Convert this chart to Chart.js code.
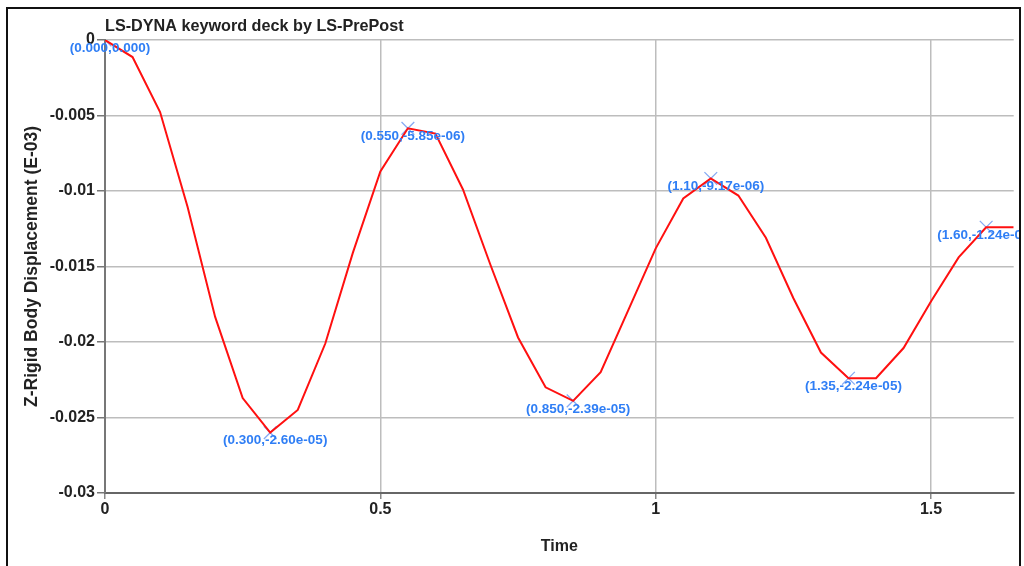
<!DOCTYPE html>
<html lang="en">

<head>
    <meta charset="UTF-8">
    <title>LS-DYNA keyword deck by LS-PrePost</title>
    <style>
        body { margin: 0; background: #fff; }
        #box { width: 1024px; height: 566px; }
    </style>
</head>

<body>

    <div id="box">
        <canvas id="myChart"></canvas>
    </div>

    <script src="https://cdn.jsdelivr.net/npm/chart.js"></script>
    <script>
        // time (s) and Z displacement, one point every 0.05
        const v_time = [0, 0.05, 0.1, 0.15, 0.2, 0.25, 0.3, 0.35, 0.4, 0.45, 0.5, 0.55, 0.6, 0.65, 0.7, 0.75, 0.8,
            0.85, 0.9, 0.95, 1.0, 1.05, 1.1, 1.15, 1.2, 1.25, 1.3, 1.35, 1.4, 1.45, 1.5, 1.55, 1.6, 1.65];
        const v_disp = [0, -0.00113, -0.00477, -0.01106, -0.01834, -0.02371, -0.0260, -0.0245, -0.0201, -0.0141,
            -0.0087, -0.00585, -0.0062, -0.0099, -0.0149, -0.0197, -0.0230, -0.0239, -0.0220, -0.0179,
            -0.0138, -0.0105, -0.00917, -0.0103, -0.0131, -0.0171, -0.0207, -0.0224, -0.0224, -0.0204,
            -0.0173, -0.0144, -0.0124, -0.0124];

        // marked extrema and their labels
        const v_markTime = [0, 0.3, 0.55, 0.85, 1.1, 1.35, 1.6];
        const v_markDisp = [0, -0.0260, -0.00585, -0.0239, -0.00917, -0.0224, -0.0124];
        const v_markLabels = ["(0.000,0.000)", "(0.300,-2.60e-05)", "(0.550,-5.85e-06)", "(0.850,-2.39e-05)",
            "(1.10,-9.17e-06)", "(1.35,-2.24e-05)", "(1.60,-1.24e-05)"];

        const v_xTicks = [0, 0.5, 1, 1.5];
        const v_yTicks = [0, -0.005, -0.01, -0.015, -0.02, -0.025, -0.03];

        let v_line = [];
        for (let i = 0; i < v_time.length; i++) {
            v_line.push({ x: v_time[i], y: v_disp[i] });
        }
        let v_marks = [];
        for (let i = 0; i < v_markTime.length; i++) {
            v_marks.push({ x: v_markTime[i], y: v_markDisp[i] });
        }

        const f_font = "'Liberation Sans', Arial, sans-serif";

        // frame, title and point labels
        const p_extra = {
            id: 'extra',
            beforeDraw(chart) {
                const c = chart.ctx;
                c.save();
                c.fillStyle = '#fff';
                c.fillRect(0, 0, chart.width, chart.height);
                c.restore();
            },
            afterDraw(chart) {
                const c = chart.ctx;
                const xs = chart.scales.x;
                const ys = chart.scales.y;
                c.save();
                c.font = "bold 13.5px " + f_font;
                c.fillStyle = '#2f7ef5';
                c.textAlign = 'center';
                c.textBaseline = 'middle';
                for (let i = 0; i < v_marks.length; i++) {
                    let w = c.measureText(v_markLabels[i]).width;
                    let px = xs.getPixelForValue(v_marks[i].x) + 5;
                    // keep the label from running off too far to the right
                    if (px + w / 2 > 1034) px = 1034 - w / 2;
                    c.fillText(v_markLabels[i], px, ys.getPixelForValue(v_marks[i].y) + 8);
                }
                c.font = "bold 16.2px " + f_font;
                c.fillStyle = '#222';
                c.textAlign = 'left';
                c.fillText("LS-DYNA keyword deck by LS-PrePost", chart.chartArea.left, 27);

                c.fillStyle = '#fff';
                c.fillRect(1021, 0, 3, chart.height);
                c.strokeStyle = '#111';
                c.lineWidth = 2;
                c.beginPath();
                c.moveTo(7, chart.height);
                c.lineTo(7, 8);
                c.lineTo(1020, 8);
                c.lineTo(1020, chart.height);
                c.stroke();
                c.restore();
            }
        };

        const ctx = document.querySelector("#myChart");

        new Chart(ctx, {
            type: 'line',
            data: {
                datasets: [
                    {
                        data: v_line,
                        borderColor: '#ff1010',
                        borderWidth: 2,
                        pointRadius: 0,
                        tension: 0
                    },
                    {
                        data: v_marks,
                        showLine: false,
                        pointStyle: 'crossRot',
                        pointRadius: 9,
                        pointBorderWidth: 1.3,
                        pointBorderColor: '#86aaf3'
                    }
                ]
            },
            plugins: [p_extra],
            options: {
                responsive: true,
                maintainAspectRatio: false,
                animation: false,
                layout: { padding: { left: 20, right: -6, top: 40, bottom: 10 } },
                plugins: {
                    legend: { display: false },
                    tooltip: { enabled: false }
                },
                scales: {
                    x: {
                        type: 'linear',
                        min: 0,
                        max: 1.65,
                        afterFit(s) { s.height = 63; },
                        afterBuildTicks(s) { s.ticks = v_xTicks.map(v => ({ value: v })); },
                        ticks: {
                            color: '#222',
                            font: { family: f_font, size: 16, weight: 'bold' },
                            padding: 1,
                            callback: v => String(v)
                        },
                        grid: { color: '#bdbdbd', lineWidth: 1.5, tickLength: 6, tickColor: '#888' },
                        border: { color: '#666', width: 2 },
                        title: {
                            display: true,
                            text: 'Time',
                            color: '#222',
                            font: { family: f_font, size: 16, weight: 'bold' },
                            padding: { top: 0, bottom: 0 }
                        }
                    },
                    y: {
                        min: -0.03,
                        max: 0,
                        afterFit(s) { s.width = 85; },
                        afterBuildTicks(s) { s.ticks = v_yTicks.map(v => ({ value: v })); },
                        ticks: {
                            color: '#222',
                            font: { family: f_font, size: 16, weight: 'bold' },
                            padding: 2,
                            callback: v => String(parseFloat(v.toFixed(3)))
                        },
                        grid: { color: '#bdbdbd', lineWidth: 1.5, tickLength: 8, tickColor: '#777' },
                        border: { color: '#777', width: 2 },
                        title: {
                            display: true,
                            text: 'Z-Rigid Body Displacement (E-03)',
                            color: '#222',
                            font: { family: f_font, size: 17.5, weight: 'bold' },
                            padding: { top: 2, bottom: 0 }
                        }
                    }
                }
            }
        });
    </script>


</body>

</html>
